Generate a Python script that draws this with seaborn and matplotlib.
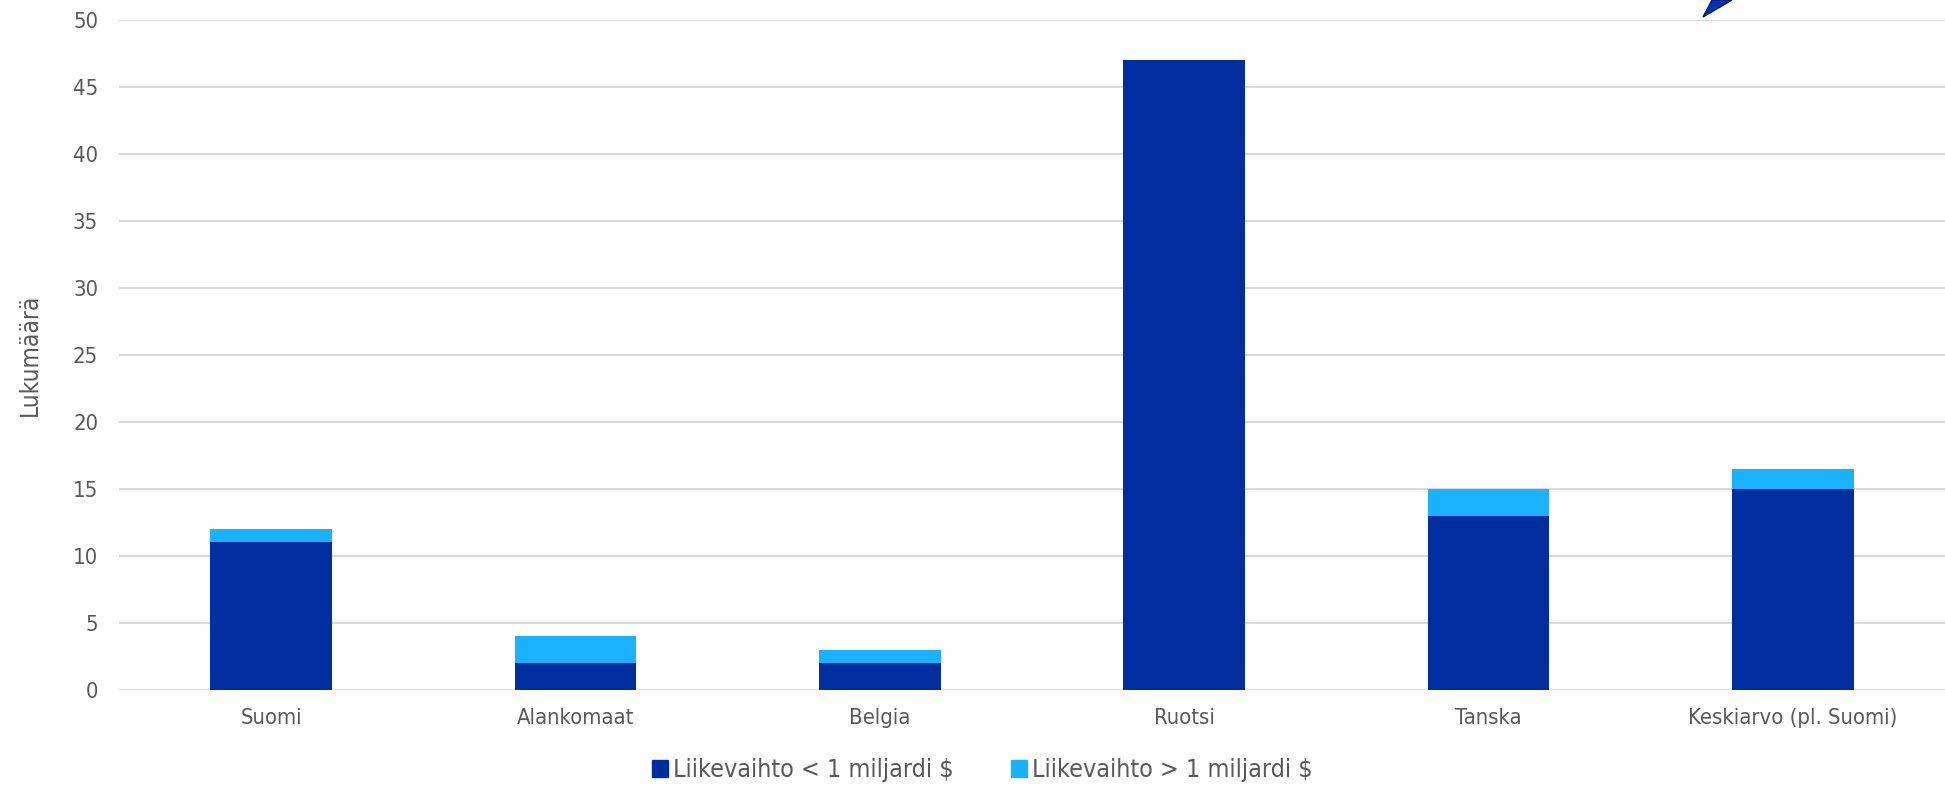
import numpy as np
import pandas as pd
import seaborn as sns
import matplotlib.pyplot as plt
import matplotlib.font_manager as fm
from matplotlib.patches import Polygon, Patch

# data
maat = ['Suomi', 'Alankomaat', 'Belgia', 'Ruotsi', 'Tanska', 'Keskiarvo (pl. Suomi)']
alle_mrd = [11, 2, 2, 47, 13, 15]     # Liikevaihto < 1 miljardi $
yli_mrd = [1, 2, 1, 0, 2, 1.5]        # Liikevaihto > 1 miljardi $

tumma = '#002D9F'
vaalea = '#1AB2FF'
harmaa = '#595959'

df = pd.DataFrame({'maa': maat, 'alle': alle_mrd, 'yli': yli_mrd})
df['yht'] = df['alle'] + df['yli']

sns.set_style('white')
plt.rcParams['font.family'] = ['DejaVu Sans']

# the original uses a narrow font; use DejaVu Sans Condensed if it is there
kapea = any(f.name == 'DejaVu Sans' and f.stretch == 'condensed'
            for f in fm.fontManager.ttflist)
if kapea:
    plt.rcParams['font.stretch'] = 'condensed'
    koko_tick, koko_leg, koko_y = 15.8, 18.0, 17.6
else:
    koko_tick, koko_leg, koko_y = 14.5, 16.4, 16

W, H = 1945, 786
fig = plt.figure(figsize=(W / 100, H / 100), dpi=100)
ax = fig.add_axes([119 / W, 1 - 690 / H, 1 - 119 / W, (690 - 19.5) / H])

# stacked bars: total first, lower part drawn over it
sns.barplot(data=df, x='maa', y='yht', color=vaalea, width=0.40, saturation=1,
            linewidth=0, ax=ax)
sns.barplot(data=df, x='maa', y='alle', color=tumma, width=0.40, saturation=1,
            linewidth=0, ax=ax)

ax.set_ylim(0, 50)
ax.set_yticks(np.arange(0, 51, 5))
ax.set_xlim(-0.5, len(maat) - 0.5)
ax.yaxis.grid(True, color='#D9D9D9', lw=1.5)
ax.set_axisbelow(True)
sns.despine(ax=ax, left=True, bottom=True)
ax.tick_params(axis='both', length=0, labelsize=koko_tick, labelcolor=harmaa)
ax.tick_params(axis='x', pad=13)
ax.tick_params(axis='y', pad=15)
ax.set_xlabel('')
ax.set_ylabel('Lukumäärä', fontsize=koko_y, color=harmaa, labelpad=22)

handles = [Patch(color=tumma), Patch(color=vaalea)]
fig.legend(handles, ['Liikevaihto < 1 miljardi $', 'Liikevaihto > 1 miljardi $'],
           loc='center', bbox_to_anchor=(0.505, 1 - 770 / H), ncol=2, frameon=False,
           fontsize=koko_leg, labelcolor=harmaa, handlelength=0.65, handleheight=0.65,
           handletextpad=0.2, columnspacing=2.3)

# cut-off arrow shape at the top edge
pts = [(1703, 17), (1712, 0), (1732, 0)]
fig.patches.append(Polygon([(x / W, 1 - y / H) for x, y in pts], closed=True,
                           transform=fig.transFigure, facecolor='#0033B0',
                           edgecolor='#001A66', lw=1))

fig.savefig('out.png', dpi=100)
